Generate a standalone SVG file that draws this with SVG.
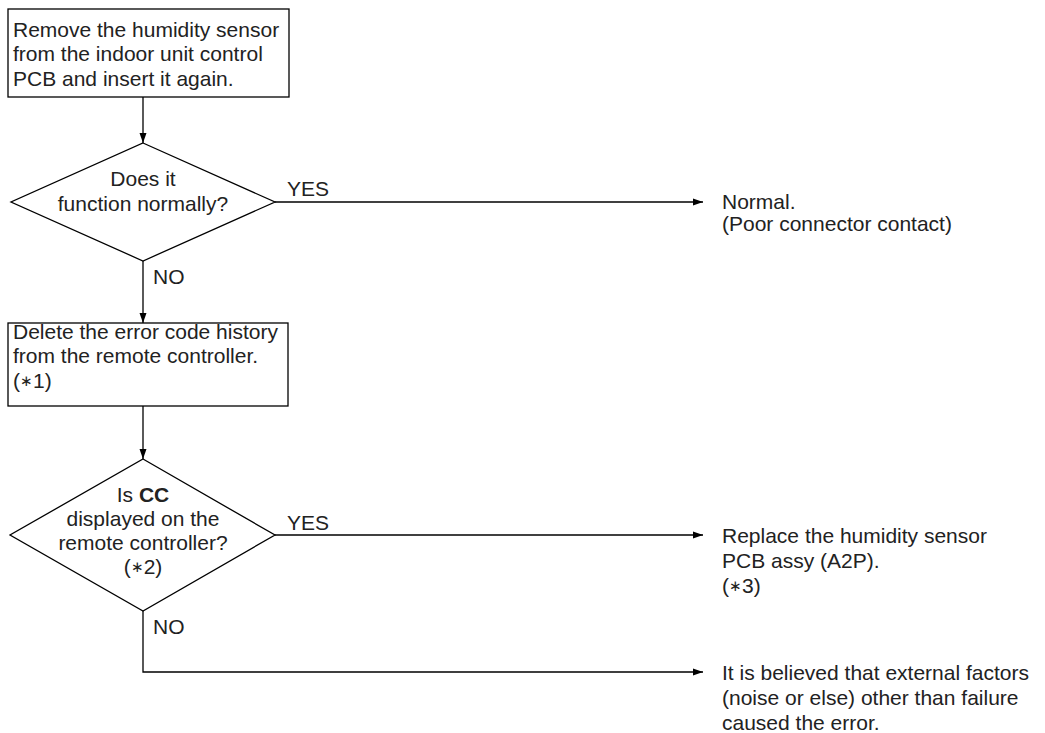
<svg xmlns="http://www.w3.org/2000/svg" width="1045" height="733" viewBox="0 0 1045 733">
<defs>
<marker id="ah" viewBox="0 0 10 10" refX="10" refY="5" markerWidth="10" markerHeight="10" markerUnits="userSpaceOnUse" orient="auto">
<path d="M0,1.5 L10,5 L0,8.5 Z" fill="#000"/>
</marker>
<style>
.s{fill:#fff;stroke:#000;stroke-width:1.3}
.c{fill:none;stroke:#000;stroke-width:1.3}
text{font-family:"Liberation Sans",Arial,sans-serif;font-size:21px;fill:#222}
.m{text-anchor:middle}
.a{font-size:15px}
</style>
</defs>
<g id="connectors">
<line class="c" x1="143" y1="97" x2="143" y2="143" marker-end="url(#ah)"/>
<line class="c" x1="143" y1="261" x2="143" y2="323" marker-end="url(#ah)"/>
<line class="c" x1="143" y1="406" x2="143" y2="459" marker-end="url(#ah)"/>
<line class="c" x1="275" y1="202" x2="703" y2="202" marker-end="url(#ah)"/>
<line class="c" x1="275" y1="535" x2="703" y2="535" marker-end="url(#ah)"/>
<polyline class="c" points="143,611 143,672 703,672" marker-end="url(#ah)"/>
<text x="287" y="196">YES</text>
<text x="153" y="284">NO</text>
<text x="287" y="530">YES</text>
<text x="153" y="634">NO</text>
</g>
<g id="n1">
<rect class="s" x="8" y="9" width="281" height="88"/>
<text x="13" y="37">Remove the humidity sensor</text>
<text x="13" y="61">from the indoor unit control</text>
<text x="13" y="86">PCB and insert it again.</text>
</g>
<g id="d1">
<polygon class="s" points="143,143 275,202 143,261 11,202"/>
<text class="m" x="143" y="186">Does it</text>
<text class="m" x="143" y="211">function normally?</text>
</g>
<g id="r1">
<text x="722" y="209">Normal.</text>
<text x="722" y="231">(Poor connector contact)</text>
</g>
<g id="n2">
<rect class="s" x="8" y="323" width="280" height="83"/>
<text x="13" y="339">Delete the error code history</text>
<text x="13" y="363">from the remote controller.</text>
<text x="13" y="388">(<tspan class="a" dy="-2">∗</tspan><tspan dy="2">1)</tspan></text>
</g>
<g id="d2">
<polygon class="s" points="143,459 275,535 143,611 10,535"/>
<text class="m" x="143" y="502">Is <tspan font-weight="bold">CC</tspan></text>
<text class="m" x="143" y="526">displayed on the</text>
<text class="m" x="143" y="550">remote controller?</text>
<text class="m" x="143" y="574">(<tspan class="a" dy="-2">∗</tspan><tspan dy="2">2)</tspan></text>
</g>
<g id="r2">
<text x="722" y="543">Replace the humidity sensor</text>
<text x="722" y="568">PCB assy (A2P).</text>
<text x="722" y="593">(<tspan class="a" dy="-2">∗</tspan><tspan dy="2">3)</tspan></text>
</g>
<g id="r3">
<text x="722" y="680">It is believed that external factors</text>
<text x="722" y="705">(noise or else) other than failure</text>
<text x="722" y="730">caused the error.</text>
</g>
</svg>
